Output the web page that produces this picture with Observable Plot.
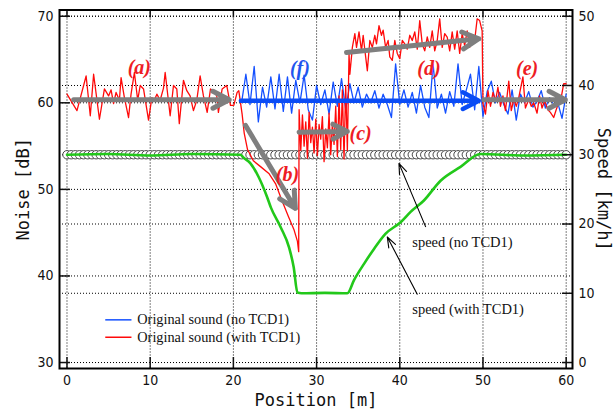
<!DOCTYPE html>
<html><head><meta charset="utf-8">
<script src="https://cdn.jsdelivr.net/npm/d3@7"></script>
<script src="https://cdn.jsdelivr.net/npm/@observablehq/plot@0.6"></script>
<style>html,body{margin:0;padding:0;background:#fff;} #chart svg{display:block;}</style>
</head><body><div id="chart"></div>
<script>
// ---- tick values ----
const xTicks = [0, 10, 20, 30, 40, 50, 60];
const dbTicks = [30, 40, 50, 60, 70];
const speedTicks = [0, 10, 20, 30, 40, 50];

// ---- Original sound (with TCD1), red ----
const redX = [0,1.2,2.3,2.8,3.2,3.9,4.5,5.0,5.3,5.6,5.9,6.3,6.5,6.9,7.4,7.7,8.1,8.5,8.8,9.2,9.8,10.2,10.5,10.8,11.2,11.6,11.8,12.4,12.8,13.2,13.5,14.0,14.4,14.8,15.2,15.6,16.0,16.4,16.85,17.25,17.6,18.0,18.2,18.65,19.2,19.65,20.05,20.45,20.65,
  21.05,21.3,21.7,22.4,23.3,24.3,25.1,25.8,26.6,27.3,27.7,27.85,
  27.9,28.1,28.3,28.5,28.7,28.9,29.1,29.3,29.5,29.7,29.9,30.1,30.3,30.5,30.7,30.9,31.1,31.3,31.5,31.7,31.9,32.1,32.3,32.5,32.7,32.9,33.1,33.3,33.5,33.7,
  33.9,34.0,34.3,34.6,34.8,35.1,35.4,35.6,35.9,36.1,36.4,36.7,37.0,37.2,37.5,37.8,38.0,38.3,38.6,38.8,39.1,39.4,39.7,40.0,40.3,40.6,40.9,41.2,41.5,41.8,42.1,42.4,42.7,43.0,43.3,43.6,43.9,44.2,44.5,44.8,45.1,45.4,45.7,46.0,46.3,46.6,46.9,47.2,47.5,47.8,48.1,48.4,48.7,49.0,49.3,49.6,49.9,
  50.0,50.3,50.6,50.9,51.2,51.5,51.8,52.1,52.4,52.7,53.1,53.4,53.7,54.0,54.3,54.8,55.1,55.5,55.8,56.1,56.5,56.8,57.1,57.4,57.8,58.1,58.5,58.8,59.1,59.4,59.7,60.0];
const redDb = [61.0,59.1,63.1,58.5,63.3,58.1,61.6,60.8,61.5,59.9,61.2,60.3,62.9,60.6,58.3,61.0,63.5,60.3,62.0,61.6,58.0,60.6,60.3,61.0,60.3,61.7,63.5,58.5,62.0,61.6,57.6,62.6,61.4,60.8,59.1,60.3,63.1,60.8,58.9,61.6,61.4,60.8,58.9,61.6,62.0,59.7,59.7,61.2,61.4,
  58.7,56.5,54.6,53.3,52.6,51.8,50.6,48.8,46.9,45.3,44.0,42.8,
  59.2,54.5,58.6,55.0,57.8,53.6,58.9,55.4,57.2,54.2,58.1,53.9,57.5,55.8,58.4,53.2,57.0,54.8,58.8,54.0,57.6,55.2,59.6,53.8,60.8,54.6,61.5,53.5,62.0,54.5,
  65.7,63.3,66.4,68.0,66.4,68.2,66.0,67.8,65.3,63.7,67.2,66.4,67.8,66.8,68.9,67.8,68.4,66.4,67.2,65.3,64.9,67.2,65.7,65.1,67.2,66.8,66.2,67.8,67.2,68.2,66.2,69.5,66.8,66.0,67.6,66.4,68.3,66.0,67.2,69.7,66.4,68.0,67.6,66.0,68.2,66.2,68.3,65.7,68.0,66.6,68.3,66.4,67.6,67.2,69.7,69.5,68.3,
  59.9,58.7,61.4,59.6,61.2,60.2,61.8,59.6,60.8,59.1,62.5,59.1,60.4,59.6,60.6,63.0,59.4,60.4,59.6,60.0,58.8,60.8,59.4,60.2,59.2,58.9,58.3,59.2,60.0,60.6,62.2,62.2];

// ---- Original sound (no TCD1), blue (identical to red before 21 m) ----
const blueX = [21,21.5,22,22.5,23,23.5,24,24.5,25,25.5,26,26.5,27,27.5,28,28.5,29,29.5,30,30.5,31,31.5,32,32.5,33,33.5,34,34.5,35,35.5,36,36.5,37,37.5,38,38.5,39,39.5,40,40.5,41,41.5,42,42.5,43,43.5,44,44.5,45,45.5,46,46.5,47,47.5,48,48.5,49,49.5,50,50.5,51,51.5,52,52.5,53,53.5,54,54.5,55,55.5,56,56.5,57,57.5,58,58.5,59,59.5,60];
const blueDb = [60.1,63.3,59.8,64.2,57.8,61.8,59.5,63.0,59.3,63.3,59.0,63.0,58.8,62.6,60.0,63.2,59.2,58.0,62.0,59.8,61.5,58.7,62.4,59.6,62.8,59.2,62.2,60.0,61.8,59.5,61.0,60.0,61.4,59.4,61.0,59.8,58.3,64.5,59.8,61.5,59.5,61.2,58.8,62.0,59.5,58.3,64.5,59.4,61.0,58.8,61.3,59.6,64.5,59.8,61.5,63.3,59.2,64.2,58.4,61.3,62.5,60.0,61.2,59.8,58.7,61.5,58.0,61.0,60.0,61.3,59.5,60.2,61.4,59.4,60.6,59.8,60.0,58.2,61.0];

// ---- speed (with TCD1), km/h ----
const speedWithX = [0,5,10,15,20.85,21.2,22.05,23.05,24.05,24.5,25.7,26.7,27.25,27.7,28.2,31,33.7,34.5,35.7,36.9,38.3,40.1,41.3,42.9,44.9,47.3,49.7,55,60];
const speedWithKmh = [30,30.1,29.9,30.1,30,29.6,28.75,26.75,23.9,22.4,19.5,16.6,13.75,10.1,10,10.05,10,11.9,14.25,16.4,18.6,20.25,21.75,23.4,26.25,28.25,30.1,29.9,30];

// ---- speed (no TCD1), km/h ----
const speedNoPos = [0,0.5,1,1.5,2,2.5,3,3.5,4,4.5,5,5.5,6,6.5,7,7.5,8,8.5,9,9.5,10,10.5,11,11.5,12,12.5,13,13.5,14,14.5,15,15.5,16,16.5,17,17.5,18,18.5,19,19.5,20,20.5,21,21.5,22,22.5,23,23.5,24,24.5,25,25.5,26,26.5,27,27.5,28,28.5,29,29.5,30,30.5,31,31.5,32,32.5,33,33.5,34,34.5,35,35.5,36,36.5,37,37.5,38,38.5,39,39.5,40,40.5,41,41.5,42,42.5,43,43.5,44,44.5,45,45.5,46,46.5,47,47.5,48,48.5,49,49.5,50,50.5,51,51.5,52,52.5,53,53.5,54,54.5,55,55.5,56,56.5,57,57.5,58,58.5,59,59.5,60];
const speedNoKmh = 30;

// ---- trend arrows (gray) and labels ----
const trendLabels = ["(a)", "(b)", "(c)", "(d)", "(e)", "(f)"];
const trendX1 = [0.8, 21.45, 27.9, 33.6, 50.1];
const trendY1 = [60.35, 57.4, 56.6, 65.8, 60.35];
const trendX2 = [19.5, 27.45, 33.7, 49.5, 59.9];
const trendY2 = [60.35, 47.8, 56.7, 67.4, 60.35];
const blueTrend = {x1: 20.9, y1: 60.25, x2: 49.5, y2: 60.25};
const labelX = [8.7, 26.5, 35.3, 43.5, 55.3, 28.0];
const labelY = [64.1, 51.7, 56.4, 63.9, 63.9, 63.9];

// speed km/h -> noise-axis units (0..50 km/h spans 30..70 dB)
const toDb = s => 30 + s * 0.8;

const red = redX.map((x, i) => ({x, y: redDb[i]}));
const blue = blueX.map((x, i) => ({x, y: blueDb[i]}));
const green = speedWithX.map((x, i) => ({x, y: toDb(speedWithKmh[i])}));
const circles = speedNoPos.map(x => ({x, y: toDb(speedNoKmh)}));
const trends = trendX1.map((x1, i) => ({x1, y1: trendY1[i], x2: trendX2[i], y2: trendY2[i]}));
const labels = trendLabels.map((t, i) => ({t, x: labelX[i], y: labelY[i], c: t === "(f)" ? "#1f55ee" : "#ee1c24"}));
const speedTickDb = speedTicks.map(toDb);

const tickFont = "'Liberation Sans Narrow','DejaVu Sans Condensed','Arial Narrow',sans-serif";
const serif = "'Liberation Serif','DejaVu Serif',serif";
const mono = "'DejaVu Sans Mono','Liberation Mono',monospace";
const dotted = {stroke: "#000", strokeOpacity: 1, strokeWidth: 1, strokeDasharray: "1,2"};

const chart = Plot.plot({
  width: 613, height: 412,
  marginLeft: 59, marginRight: 41, marginTop: 9.5, marginBottom: 44,
  style: {fontFamily: tickFont, fontSize: "14px", background: "#fff", color: "#111"},
  x: {domain: [-0.9, 60.76]},
  y: {domain: [29.31, 70.72]},
  marks: [
    Plot.gridX(xTicks, dotted),
    Plot.gridY(dbTicks, dotted),
    Plot.gridY(speedTickDb, dotted),
    Plot.dot(circles, {x: "x", y: "y", r: 4.2, fill: "#fff", stroke: "#333", strokeWidth: 0.9}),
    Plot.line(green, {x: "x", y: "y", stroke: "#22c81a", strokeWidth: 2.6, curve: "monotone-x"}),
    Plot.line(blue, {x: "x", y: "y", stroke: "#1450ff", strokeWidth: 1.3}),
    Plot.line(red, {x: "x", y: "y", stroke: "#ff0a0a", strokeWidth: 1.3}),
    Plot.arrow(trends, {x1: "x1", y1: "y1", x2: "x2", y2: "y2", stroke: "#7f7f7f", strokeWidth: 5, headLength: 5.5, headAngle: 55}),
    Plot.arrow([blueTrend], {x1: "x1", y1: "y1", x2: "x2", y2: "y2", stroke: "#0a4cf5", strokeWidth: 4.5, headLength: 6, headAngle: 55}),
    Plot.text(labels, {x: "x", y: "y", text: "t", fill: "c", fontFamily: serif, fontStyle: "italic", fontWeight: "bold", fontSize: 20}),
    // speed annotations
    Plot.arrow([{x1: 43.1, y1: 45.7, x2: 39.9, y2: 53.0}, {x1: 42.1, y1: 37.9, x2: 38.5, y2: 44.5}],
      {x1: "x1", y1: "y1", x2: "x2", y2: "y2", stroke: "#000", strokeWidth: 1.1, headLength: 15, headAngle: 40}),
    Plot.text([{t: "speed (no TCD1)", x: 41.5, y: 43.9}, {t: "speed (with TCD1)", x: 41.5, y: 36.1}],
      {x: "x", y: "y", text: "t", textAnchor: "start", fontFamily: serif, fontSize: 14.5, fill: "#111"}),
    // legend
    Plot.link([{x1: 4.6, x2: 7.75, y: 34.93, c: "#1450ff"}, {x1: 4.6, x2: 7.75, y: 32.92, c: "#ff0a0a"}],
      {x1: "x1", x2: "x2", y1: "y", y2: "y", stroke: "c", strokeWidth: 1.5}),
    Plot.text([{t: "Original sound (no TCD1)", y: 34.93}, {t: "Original sound (with TCD1)", y: 32.92}],
      {x: 8.45, y: "y", text: "t", textAnchor: "start", fontFamily: serif, fontSize: 14.3, fill: "#111"}),
    // axes
    Plot.axisX(xTicks, {anchor: "bottom", tickSize: 0, tickPadding: 7, label: null, fontSize: 14}),
    Plot.axisX(xTicks, {anchor: "bottom", tickSize: -11, fill: "none", strokeWidth: 1.5, label: null}),
    Plot.axisX(xTicks, {anchor: "top", tickSize: -7, fill: "none", strokeWidth: 1.5, label: null}),
    Plot.axisY(dbTicks, {anchor: "left", tickSize: 0, tickPadding: 6, label: null, fontSize: 14}),
    Plot.axisY(dbTicks, {anchor: "left", tickSize: -11, fill: "none", strokeWidth: 1.5, label: null}),
    Plot.axisY(speedTickDb, {anchor: "right", tickSize: 0, tickPadding: 6, label: null, fontSize: 14,
      tickFormat: d => String(Math.round((d - 30) / 0.8))}),
    Plot.axisY(speedTickDb, {anchor: "right", tickSize: -11, fill: "none", strokeWidth: 1.5, label: null}),
    Plot.frame({stroke: "#000", strokeWidth: 2}),
    Plot.text(["Position [m]"], {frameAnchor: "bottom", dy: 32, lineAnchor: "middle", textAnchor: "middle", fontFamily: mono, fontSize: 17, fill: "#111"}),
    Plot.text(["Noise [dB]"], {frameAnchor: "left", dx: -36, rotate: -90, lineAnchor: "middle", textAnchor: "middle", fontFamily: mono, fontSize: 17, fill: "#111"}),
    Plot.text(["Speed [km/h]"], {frameAnchor: "right", dx: 31, rotate: 90, lineAnchor: "middle", textAnchor: "middle", fontFamily: mono, fontSize: 17, fill: "#111"})
  ]
});
document.getElementById("chart").append(chart);
</script></body></html>
